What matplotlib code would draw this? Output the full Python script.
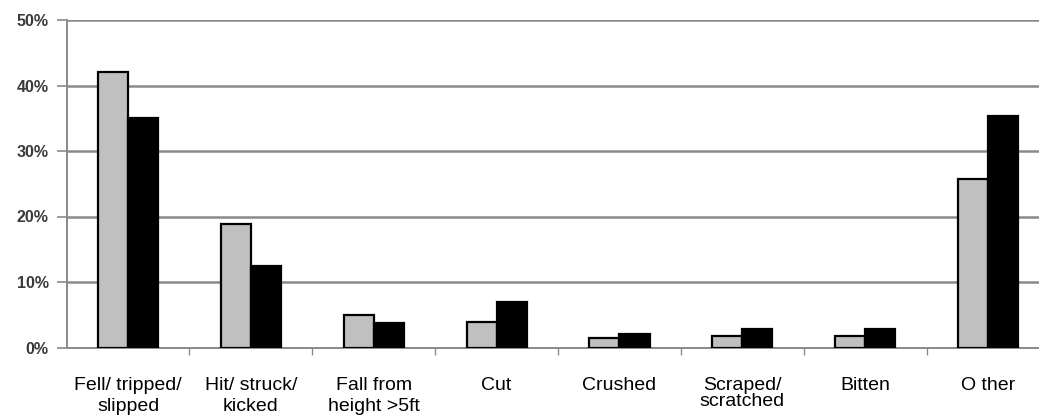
import matplotlib.pyplot as plt
import numpy as np

plt.rcParams['font.family'] = ['Liberation Sans', 'DejaVu Sans']

categories = ['Fell/ tripped/\nslipped', 'Hit/ struck/\nkicked', 'Fall from\nheight >5ft',
              'Cut', 'Crushed', 'Scraped/\nscratched', 'Bitten', 'O ther']
grey_vals = [42.1, 18.9, 5.0, 3.9, 1.4, 1.7, 1.7, 25.8]
black_vals = [35.0, 12.4, 3.7, 6.9, 2.0, 2.9, 2.9, 35.3]
yticks = [0, 10, 20, 30, 40, 50]

fig = plt.figure(figsize=(10.39, 4.18), dpi=100)
W, H = 1039, 418
x0, x1 = 66.6, 1049.5
y0, y1 = 347.5, 20
ax = fig.add_axes([x0 / W, (H - y0) / H, (x1 - x0) / W, (y0 - y1) / H])

n = len(categories)
x = np.arange(n) + 0.5
bw = 0.245
ax.bar(x - bw / 2, grey_vals, bw, color='#c0c0c0', edgecolor='black', linewidth=1.6, zorder=3)
ax.bar(x + bw / 2, black_vals, bw, color='black', edgecolor='black', linewidth=1.6, zorder=3)

ax.set_xlim(0, n)
ax.set_ylim(0, 50)
ax.set_yticks(yticks)
ax.set_yticklabels([f'{v}%' for v in yticks], fontsize=11.5, fontweight='bold', color='#3a3a3a')
ax.yaxis.grid(True, color='#8a8a8a', linewidth=1.8, zorder=0)
ax.tick_params(axis='y', length=7, width=1.2, color='#8a8a8a', pad=6)

ax.set_xticks(x)
ax.set_xticklabels(categories, fontsize=14, linespacing=1.35)
ax.set_xticks(np.arange(1, n), minor=True)
ax.tick_params(axis='x', which='major', length=0, pad=21)
ax.tick_params(axis='x', which='minor', length=5, width=1.0, color='#8a8a8a')
ax.get_xticklabels()[5].set_linespacing(0.95)

for s in ['top', 'right']:
    ax.spines[s].set_visible(False)
ax.spines['left'].set_color('#8a8a8a')
ax.spines['left'].set_linewidth(1.4)
ax.spines['bottom'].set_color('#8a8a8a')
ax.spines['bottom'].set_linewidth(1.4)

fig.savefig('out.png', dpi=100)
